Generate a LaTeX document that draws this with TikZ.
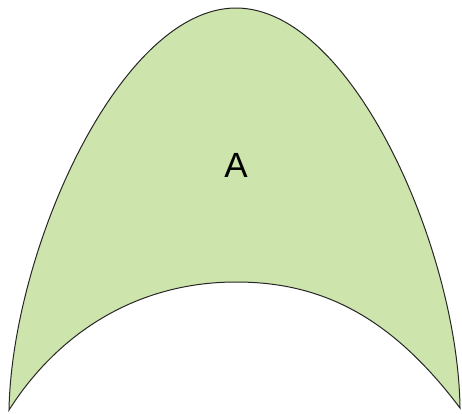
\documentclass[tikz,border=0pt]{standalone}
\usepackage{fontspec}
\setsansfont{Liberation Sans}
\usetikzlibrary{positioning}
\definecolor{archgreen}{RGB}{205,228,172}
\tikzset{arch/.style={draw=black!85, line width=1pt, fill=archgreen}}

\begin{document}
\begin{tikzpicture}[x=1pt, y=-1pt]
    \useasboundingbox (0,0) rectangle (462,413);
    % arch shape
    \coordinate (lefttip) at (9,410);
    \coordinate (top) at (236,8);
    \coordinate (righttip) at (460,408);
    \coordinate (dip) at (236,282);
    \draw[arch] (lefttip) .. controls (12,250) and (120,8) .. (top)
        .. controls (352,8) and (458,250) .. (righttip)
        .. controls (390,315) and (320,282) .. (dip)
        .. controls (140,282) and (60,330) .. (lefttip) -- cycle;
    \node (label) at (236,165) {\fontsize{35}{40}\sffamily A};
\end{tikzpicture}
\end{document}
